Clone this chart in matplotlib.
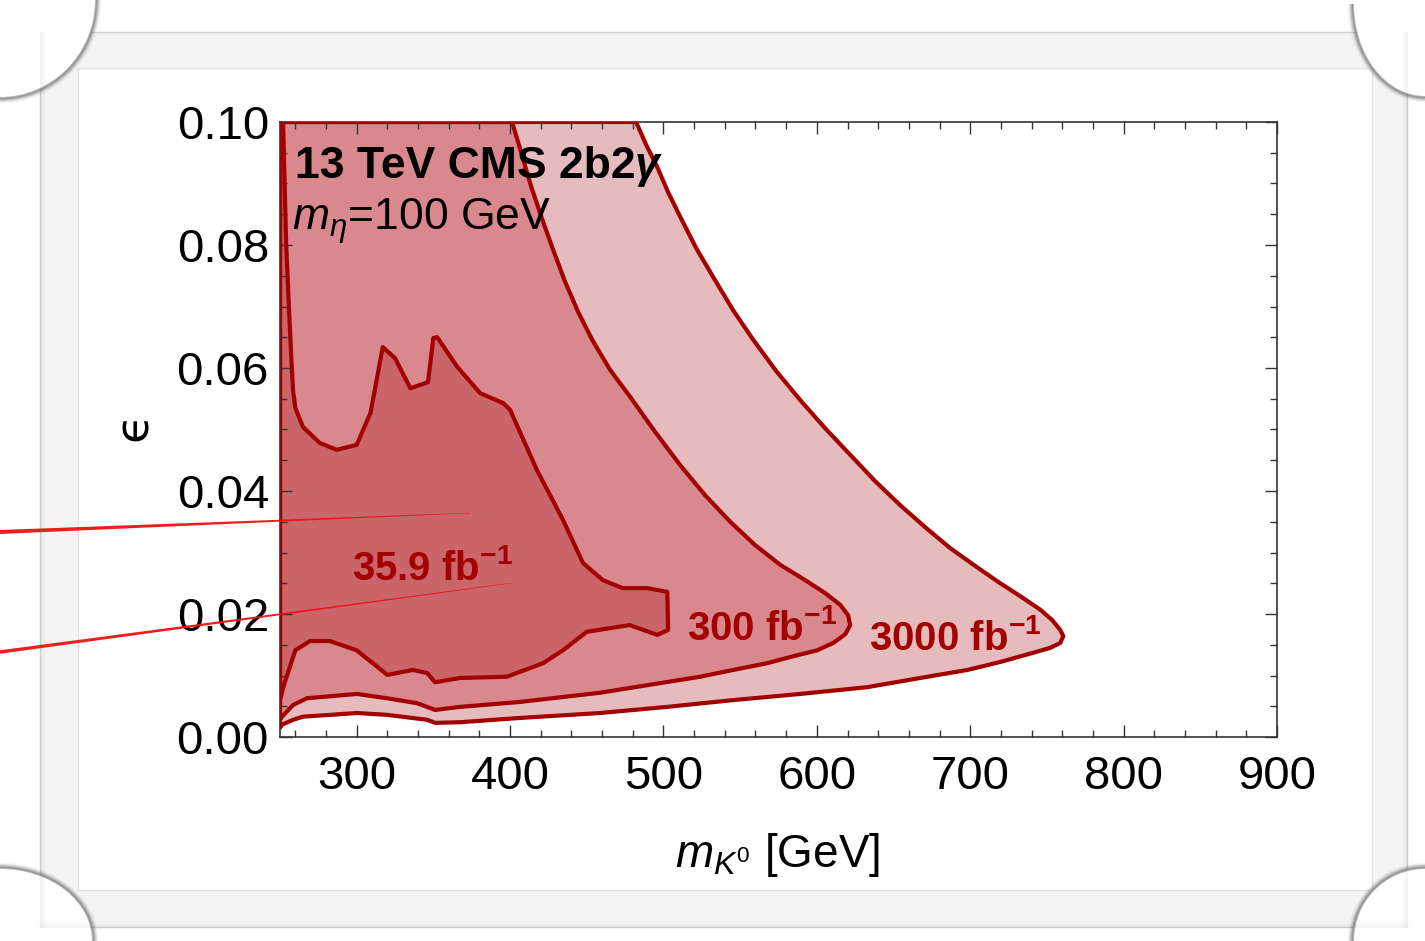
import numpy as np
import matplotlib
matplotlib.use("Agg")
import matplotlib.pyplot as plt
from matplotlib.patches import Polygon, Rectangle, Ellipse, Arc
from matplotlib.ticker import MultipleLocator

plt.rcParams['font.family'] = ['Liberation Sans', 'DejaVu Sans']
plt.rcParams['mathtext.fontset'] = 'custom'
plt.rcParams['mathtext.rm'] = 'Liberation Sans'
plt.rcParams['mathtext.it'] = 'Liberation Sans:italic'
plt.rcParams['mathtext.bf'] = 'Liberation Sans:bold'

# ---------------------------------------------------------------
# Exclusion contours in the (m_K0, epsilon) plane, m_eta = 100 GeV
# Each outline is closed along the left edge of the plot (m_K0 = 250)
# ---------------------------------------------------------------
mk_3000 = [250, 482.2, 488.7, 495.9, 503.0, 510.9, 521.3, 532.4, 545.4, 558.5,
           573.5, 589.1, 605.4, 621.7, 638.0, 654.3, 670.7, 687.0, 703.3,
           719.6, 732.6, 745.7, 753.5, 758.7, 760.7, 758.7, 752.2, 741.1,
           719.6, 698.1, 667.4, 632.8, 589.1, 545.4, 502.4, 458.7, 406.5,
           367.4, 351.1, 345.9, 319.8, 300.2, 265.0, 258.5, 251.3, 250]
eps_3000 = [0.100, 0.1000, 0.0963, 0.0927, 0.0886, 0.0846, 0.0795, 0.0748,
            0.0694, 0.0646, 0.0595, 0.0548, 0.0502, 0.0459, 0.0416, 0.0377,
            0.0341, 0.0307, 0.0278, 0.0250, 0.0229, 0.0207, 0.0190, 0.0174,
            0.0164, 0.0153, 0.0145, 0.0137, 0.0122, 0.0109, 0.0096, 0.0081,
            0.0070, 0.0060, 0.0049, 0.0039, 0.0031, 0.0024, 0.0023, 0.0028,
            0.0036, 0.0039, 0.0033, 0.0028, 0.0020, 0.0015]

mk_300 = [250, 401.3, 407.2, 413.0, 420.2, 428.1, 435.9, 444.4, 453.5, 465.2,
          478.3, 494.6, 510.9, 527.2, 543.5, 559.8, 576.1, 592.4, 605.4,
          615.2, 620.4, 621.7, 618.5, 610.7, 600.2, 582.6, 567.6, 545.4,
          523.9, 491.3, 458.7, 406.5, 367.4, 351.1, 339.3, 319.8, 300.2,
          267.6, 258.5, 251.3, 250]
eps_300 = [0.100, 0.1000, 0.0951, 0.0901, 0.0847, 0.0792, 0.0740, 0.0691,
           0.0646, 0.0597, 0.0553, 0.0496, 0.0442, 0.0393, 0.0350, 0.0312,
           0.0280, 0.0255, 0.0234, 0.0215, 0.0198, 0.0182, 0.0167, 0.0153,
           0.0141, 0.0130, 0.0120, 0.0109, 0.0098, 0.0085, 0.0072, 0.0057,
           0.0049, 0.0044, 0.0055, 0.0063, 0.0070, 0.0063, 0.0052, 0.0033,
           0.0028]

mk_359 = [250, 252, 254, 255.9, 257.5, 258.5, 260, 265, 276, 287, 300, 309,
          317, 325, 335, 346.5, 350, 352.5, 365.5, 380.5, 395.5, 400, 417.5,
          434.5, 447.5, 460.5, 473.5, 489.5, 502.5, 503, 496, 478, 450, 434.5,
          421.5, 406.5, 398, 367.5, 351, 346, 336.5, 320, 300, 282.5, 269.5,
          260, 253, 250]
eps_359 = [0.100, 0.100, 0.0803, 0.0694, 0.0610, 0.0564, 0.0535, 0.0504,
           0.0478, 0.0467, 0.0475, 0.0527, 0.0634, 0.0616, 0.0567, 0.0577,
           0.0649, 0.0650, 0.0602, 0.0559, 0.0543, 0.0532, 0.0434, 0.0353,
           0.0283, 0.0255, 0.0242, 0.0242, 0.0236, 0.0174, 0.0166, 0.0182,
           0.0171, 0.0141, 0.0120, 0.0106, 0.0098, 0.0096, 0.0089, 0.0104,
           0.0109, 0.0101, 0.0141, 0.0156, 0.0156, 0.0141, 0.0088, 0.0060]

regions = [
    (mk_3000, eps_3000, '#E6BBBD'),
    (mk_300, eps_300, '#D9898E'),
    (mk_359, eps_359, '#CA656A'),
]

lumi_labels = [r'35.9 fb$^{\mathbf{-1}}$', r'300 fb$^{\mathbf{-1}}$',
               r'3000 fb$^{\mathbf{-1}}$']
lumi_label_pos = [(297.0, 0.0255), (515.5, 0.0158), (634.0, 0.0141)]

x_ticks = [300, 400, 500, 600, 700, 800, 900]
y_ticks = [0.00, 0.02, 0.04, 0.06, 0.08, 0.10]

LINE = '#A30000'
W, H = 1425, 941

fig = plt.figure(figsize=(W / 100, H / 100), dpi=100)
fig.patch.set_facecolor('white')
ax = fig.add_axes([280 / W, 1 - 737 / H, 997 / W, 615 / H])

for mk, eps, fc in regions:
    ax.fill(mk, eps, facecolor=fc, edgecolor='none', zorder=1)
    ax.plot(mk + [mk[0]], eps + [eps[0]], color=LINE, lw=3.0,
            solid_joinstyle='round', zorder=3)

ax.set_xlim(250, 900)
ax.set_ylim(0, 0.10)
ax.set_xticks(x_ticks)
ax.set_xticklabels([str(v) for v in x_ticks])
ax.set_yticks(y_ticks)
ax.set_yticklabels([f'{v:.2f}' for v in y_ticks])
ax.xaxis.set_minor_locator(MultipleLocator(20))
ax.yaxis.set_minor_locator(MultipleLocator(0.005))
ax.tick_params(which='both', direction='in', top=True, right=True,
               color='#333333', width=1.0)
ax.tick_params(which='major', length=8.6, labelsize=34)
ax.tick_params(which='minor', length=5)
ax.tick_params(axis='x', which='major', pad=13)
ax.tick_params(axis='y', which='major', pad=8)
for s in ax.spines.values():
    s.set_color('#333333')
    s.set_linewidth(1.2)
    s.set_zorder(2.5)

# Header text
t1 = ax.text(259.5, 0.0909, '13 TeV CMS 2b2', fontsize=32, fontweight='bold',
             color='black', va='baseline', ha='left', zorder=5)
ax.annotate('γ', xy=(1, 0), xycoords=t1, va='bottom', ha='left',
            fontsize=32, fontweight='bold', fontstyle='italic', zorder=5)
ax.text(257.8, 0.0824, r'$m_\eta$=100 GeV', fontsize=32, color='black',
        va='baseline', ha='left', zorder=5)

for lab, (x, y) in zip(lumi_labels, lumi_label_pos):
    ax.text(x, y, lab, fontsize=29, fontweight='bold', color=LINE,
            va='baseline', ha='left', zorder=5)

# Axis titles
fig.text(778 / W, 1 - 867 / H, r'$m_{K^0}$ [GeV]', fontsize=33,
         ha='center', va='baseline')
fig.text(134 / W, 1 - 426 / H, 'ϵ', fontsize=34, rotation=90,
         ha='center', va='center', family=['DejaVu Sans'])

# ---------------------------------------------------------------
# Mounting frame and pen strokes, drawn in pixel space
# ---------------------------------------------------------------
ov = fig.add_axes([0, 0, 1, 1], zorder=10)
ov.set_xlim(0, W)
ov.set_ylim(H, 0)
ov.axis('off')
ov.patch.set_alpha(0)

FRAME_OUT = (40, 32, 1407, 927)
FRAME_IN = (78, 68, 1372, 890)
BAND = '#F4F4F4'
x0, y0, x1, y1 = FRAME_OUT
i0, j0, i1, j1 = FRAME_IN
for rect in [(x0, y0, x1 - x0, j0 - y0), (x0, j1, x1 - x0, y1 - j1),
             (x0, y0, i0 - x0, y1 - y0), (i1, y0, x1 - i1, y1 - y0)]:
    ov.add_patch(Rectangle(rect[:2], rect[2], rect[3], facecolor=BAND,
                           edgecolor='none'))
ov.add_patch(Rectangle((x0, y0), x1 - x0, y1 - y0, fill=False,
                       edgecolor='#D2D2D2', lw=1.0))
ov.add_patch(Rectangle((i0, j0), i1 - i0, j1 - j0, fill=False,
                       edgecolor='#E2E2E2', lw=1.0))
# soft shading on the outer side bands
for k in range(6):
    a = 0.07 * (6 - k) / 6
    ov.plot([x0 + k, x0 + k], [y0, y1], color='#808080', alpha=a, lw=1)
    ov.plot([x1 - k, x1 - k], [y0, y1], color='#808080', alpha=a, lw=1)
    ov.plot([x0, x1], [y1 - k, y1 - k], color='#808080', alpha=a, lw=1)

# curled corners: (centre, rx, ry, theta1, theta2)
corners = [((0, 0), 96, 98, 0, 90),
           ((W, 4), 72, 93, 90, 180),
           ((0, H), 93, 73, 270, 360),
           ((W, H), 72, 73, 180, 270)]
for (cx, cy), rx, ry, t_a, t_b in corners:
    ov.add_patch(Ellipse((cx, cy), 2 * rx, 2 * ry, facecolor='white',
                         edgecolor='none'))
    for k in range(8):
        ov.add_patch(Arc((cx, cy), 2 * rx + 1.5 * k, 2 * ry + 1.5 * k,
                         theta1=t_a, theta2=t_b, color='#606060',
                         lw=1.5, alpha=0.40 * (1 - k / 8) ** 2))


def pen_stroke(p0, p1, w0, w1):
    p0 = np.asarray(p0, float)
    p1 = np.asarray(p1, float)
    d = (p1 - p0) / np.hypot(*(p1 - p0))
    n = np.array([-d[1], d[0]])
    pts = [p0 + n * w0 / 2, p1 + n * w1 / 2, p1 - n * w1 / 2, p0 - n * w0 / 2]
    ov.add_patch(Polygon(pts, closed=True, facecolor='#F01010',
                         edgecolor='none', alpha=0.95))


pen_stroke((0, 532), (470, 513), 4.0, 0.5)
pen_stroke((0, 652), (512, 583), 3.5, 0.5)

fig.savefig('out.png', dpi=100, facecolor='white')
